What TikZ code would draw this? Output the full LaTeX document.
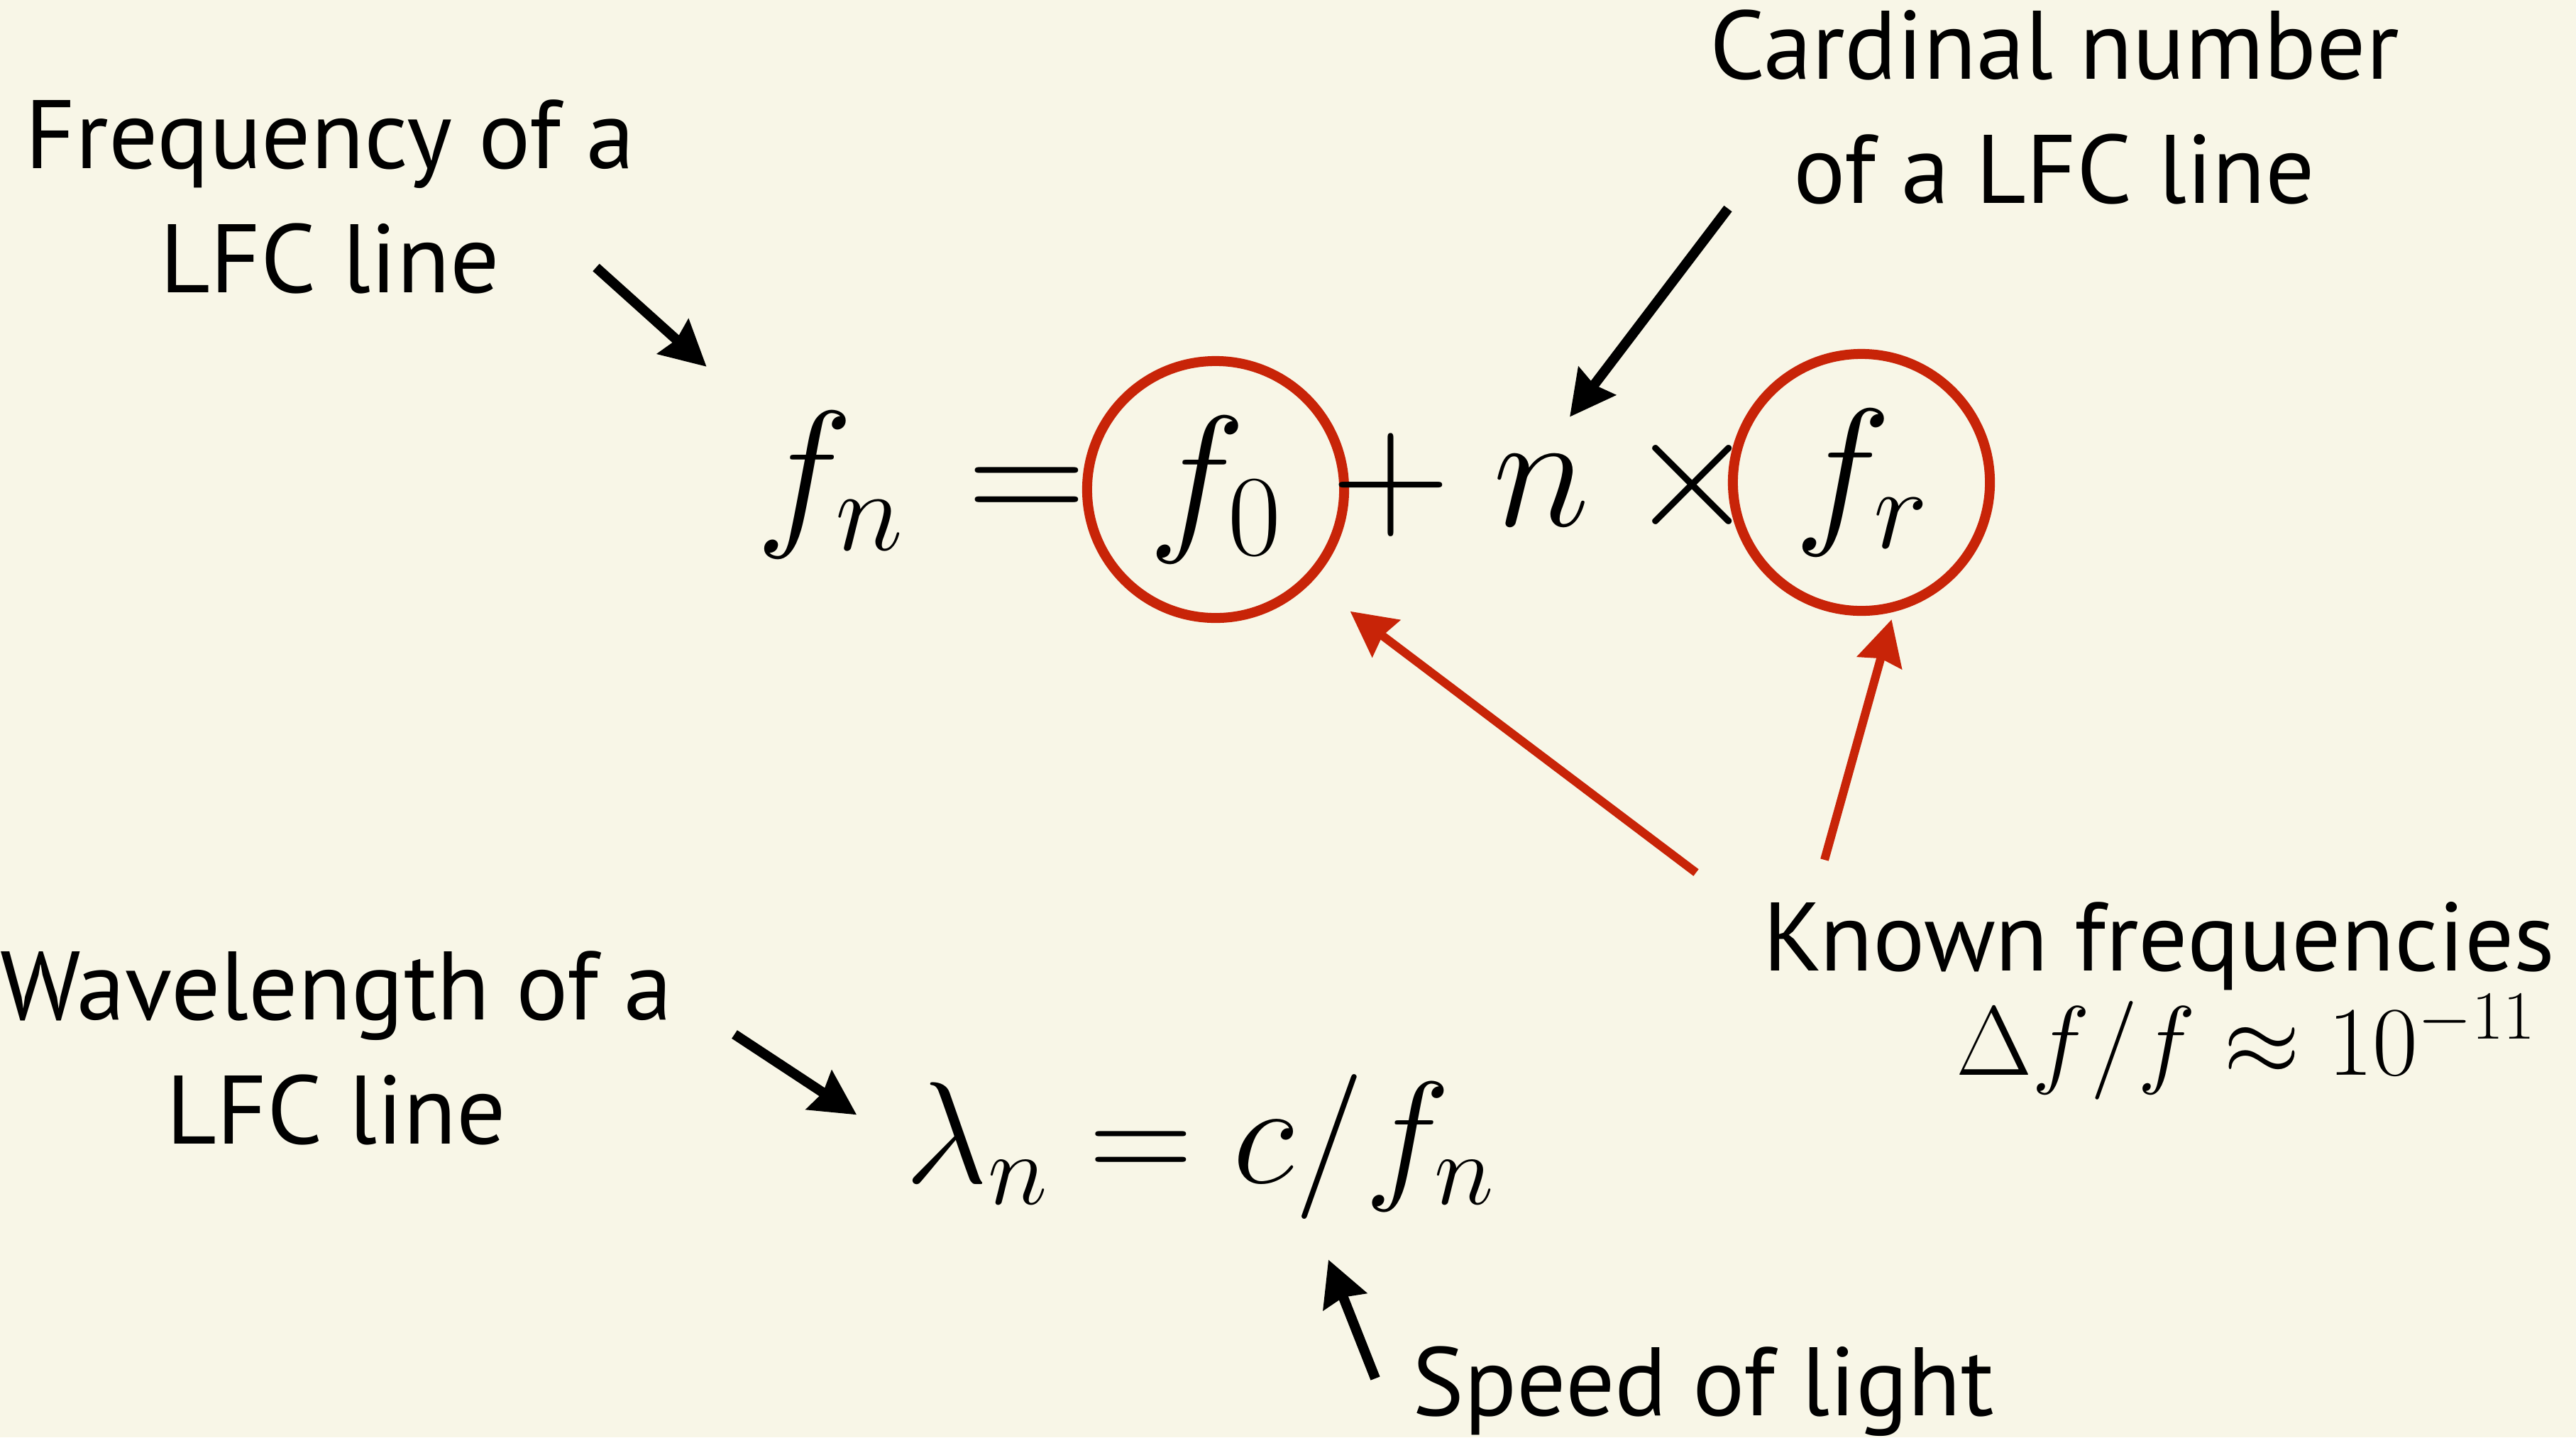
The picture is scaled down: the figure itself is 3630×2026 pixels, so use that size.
\RequirePackage{fix-cm}
\documentclass[tikz,border=0pt]{standalone}
\usepackage[no-math]{fontspec}
\setmainfont{PT Sans}
\usetikzlibrary{arrows.meta}

\definecolor{paper}{RGB}{248,246,231}
\definecolor{ringred}{RGB}{200,36,8}

\tikzset{
  lbl/.style={font=\fontsize{39}{49.5}\selectfont, inner sep=0pt, align=center},
  bigeq/.style={font=\fontsize{66}{70}\selectfont, inner sep=0pt},
  ring/.style={circle, draw=ringred, line width=0.14cm, minimum size=3.62cm, inner sep=0pt},
  pointer/.style={line width=0.14cm, -{Stealth[length=0.63cm, width=0.64cm, inset=0.06cm]}},
  redpointer/.style={pointer, draw=ringred, line width=0.12cm}
}

\begin{document}
\begin{tikzpicture}[x=0.01cm,y=-0.01cm]
\fill[paper] (0,0) rectangle (3630,2026);
\useasboundingbox (0,0) rectangle (3630,2026);

% labels (base = last line)
\node[lbl, anchor=base] (freq) at (465,412) {Frequency of a\\LFC line};
\node[lbl, anchor=base] (card) at (2895,286) {Cardinal number\\of a LFC line};
\node[lbl, anchor=base] (wavel) at (474,1612) {Wavelength of a\\LFC line};
\node[lbl, anchor=base east] (known) at (3601,1368) {Known frequencies};
\node[font=\fontsize{39.5}{45}\selectfont, inner sep=0pt, anchor=base east] (ratio) at (3575,1515) {$\Delta f/f \approx 10^{-11}$};
\node[lbl, anchor=base west] (speed) at (1990,1995) {Speed of light};

% f_n = f_0 + n x f_r
\node[bigeq, anchor=base] (fn) at (1170,741) {$f_n$};
\node[bigeq, anchor=base] (eq) at (1447,741) {$=$};
\node[ring, bigeq] (f0) at (1713,690) {$f_0$};
\node[bigeq, anchor=base] (plus) at (1960,741) {$+$};
\node[bigeq, anchor=base] (nn) at (2172,741) {$n$};
\node[bigeq, anchor=base] (times) at (2385,741) {$\times$};
\node[ring, bigeq] (fr) at (2623,680) {$f_r$};

% lambda_n = c/f_n
\node[font=\fontsize{58}{62}\selectfont, inner sep=0pt, anchor=base west] (wave) at (1275,1667) {$\lambda_n = c/f_n$};

% arrows
\coordinate (freqtail) at (840,377);
\coordinate (cardtail) at (2435,294);
\coordinate (waveltail) at (1035,1458);
\coordinate (speedtail) at (1938,1943);
\coordinate (knowntail) at (2390,1230);
\coordinate (knowntail2) at (2571,1212);

\draw[pointer, shorten >=0.93cm] (freqtail) -- (fn.north west);
\draw[pointer, shorten >=0.66cm] (cardtail) -- (nn.north);
\draw[pointer, shorten >=0.81cm] (waveltail) -- (wave.west);
\draw[pointer, shorten >=0.61cm] (speedtail) -- (wave.-33);
\draw[redpointer, shorten >=0.68cm] (knowntail) -- (f0.-44);
\draw[redpointer, shorten >=0.11cm] (knowntail2) -- (fr.-76);
\end{tikzpicture}
\end{document}
